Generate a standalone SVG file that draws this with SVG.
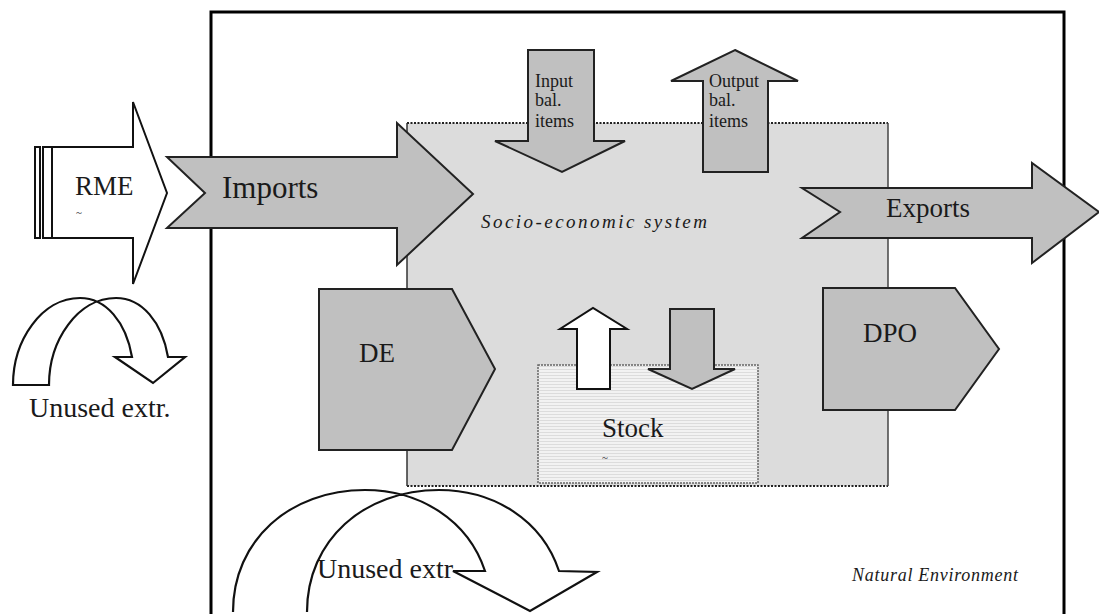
<svg xmlns="http://www.w3.org/2000/svg" width="1099" height="614" viewBox="0 0 1099 614">
<style>
  .t { font-family: "Liberation Serif", "Times New Roman", serif; fill: #1a1a1a; }
  .big { font-size: 27px; }
  .sm { font-size: 18px; }
  .it { font-style: italic; }
  .g { fill: #c0c0c0; stroke: #222; stroke-width: 2; stroke-linejoin: miter; }
  .w { fill: #ffffff; stroke: #111; stroke-width: 2; }
  .ln { fill: none; stroke: #111; stroke-width: 2.2; }
</style>
<defs>
  <pattern id="grid" width="4" height="3" patternUnits="userSpaceOnUse">
    <rect width="4" height="3" fill="#f2f2f2"/>
    <line x1="0" y1="0.5" x2="4" y2="0.5" stroke="#dcdcdc" stroke-width="1"/>
  </pattern>
</defs>
<rect width="1099" height="614" fill="#ffffff"/>

<g id="natural-environment">
  <rect x="211" y="12" width="853" height="620" fill="none" stroke="#000" stroke-width="3"/>
  <text class="t it" x="852" y="581" font-size="18" textLength="166" lengthAdjust="spacing">Natural Environment</text>
</g>

<g id="socio-economic-system">
  <rect x="407" y="123" width="481" height="363" fill="#dcdcdc"/>
  <line x1="407" y1="123" x2="888" y2="123" stroke="#222" stroke-width="2" stroke-dasharray="2,1.5"/>
  <line x1="407" y1="486" x2="888" y2="486" stroke="#222" stroke-width="2" stroke-dasharray="2,1.5"/>
  <line x1="407" y1="123" x2="407" y2="486" stroke="#333" stroke-width="1.5"/>
  <line x1="888" y1="123" x2="888" y2="486" stroke="#444" stroke-width="1.5"/>
  <text class="t it" x="481" y="228" font-size="19" textLength="226" lengthAdjust="spacing">Socio-economic system</text>
</g>

<g id="stock">
  <rect x="538" y="365" width="220" height="118" fill="url(#grid)" stroke="#666" stroke-width="1.5" stroke-dasharray="2,1"/>
  <text class="t big" x="602" y="437">Stock</text>
  <text class="t" x="602" y="461" font-size="11">~</text>
</g>

<g id="connectors">
  <g id="rme">
    <rect x="35" y="147" width="5" height="91" class="w"/>
    <rect x="43" y="147" width="9" height="91" class="w"/>
    <polygon class="w" points="52,147 133,147 133,102 167,193 133,284 133,238 52,238"/>
    <text class="t big" x="75" y="195">RME</text>
    <text class="t" x="76" y="216" font-size="11">~</text>
  </g>
  <g id="imports">
    <polygon class="g" points="167,157 397,157 397,123 473,194 397,265 397,228 167,228 205,193"/>
    <text class="t" x="222" y="198" font-size="31">Imports</text>
  </g>
  <g id="exports">
    <polygon class="g" points="802,188 1032,188 1032,163 1099,212 1032,263 1032,238 802,238 840,212"/>
    <text class="t big" x="886" y="217">Exports</text>
  </g>
  <g id="input-bal">
    <polygon class="g" points="528,50 594,50 594,141 625,141 562,172 495,141 528,141"/>
    <text class="t sm" x="535" y="87">Input</text>
    <text class="t sm" x="535" y="106">bal.</text>
    <text class="t sm" x="535" y="127">items</text>
  </g>
  <g id="output-bal">
    <polygon class="g" points="735,50 798,81 768,81 768,172 703,172 703,81 671,81"/>
    <text class="t sm" x="709" y="87">Output</text>
    <text class="t sm" x="709" y="106">bal.</text>
    <text class="t sm" x="709" y="127">items</text>
  </g>
  <g id="de">
    <polygon class="g" points="319,289 452,289 495,369 452,450 319,450"/>
    <text class="t big" x="359" y="362">DE</text>
  </g>
  <g id="dpo">
    <polygon class="g" points="823,288 955,288 999,349 955,410 823,410"/>
    <text class="t big" x="863" y="342">DPO</text>
  </g>
  <g id="stock-out">
    <polygon class="w" points="577,389 577,329 560,329 593,308 627,329 610,329 610,389"/>
  </g>
  <g id="stock-in">
    <polygon class="g" points="670,309 714,309 714,369 735,369 692,389 648,369 670,369"/>
  </g>
  <g id="unused-small">
    <text class="t" x="29" y="417" font-size="28">Unused extr.</text>
    <path class="ln" d="M13,385 C13,340 42,298 80,298 C106,298 126,322 132,357 L115,357 L153,383 L185,357 L168,357 C162,322 142,298 116,298 C78,298 49,340 49,385 Z"/>
  </g>
  <g id="unused-big">
    <text class="t" x="317" y="578" font-size="28">Unused extr</text>
    <path class="ln" d="M233,612 C233,540 290,490 365,490 C420,490 468,520 485,571 L453,571 L530,611 L597,572 L559,571 C542,520 494,490 439,490 C364,490 307,540 307,612"/>
  </g>
</g>
</svg>
